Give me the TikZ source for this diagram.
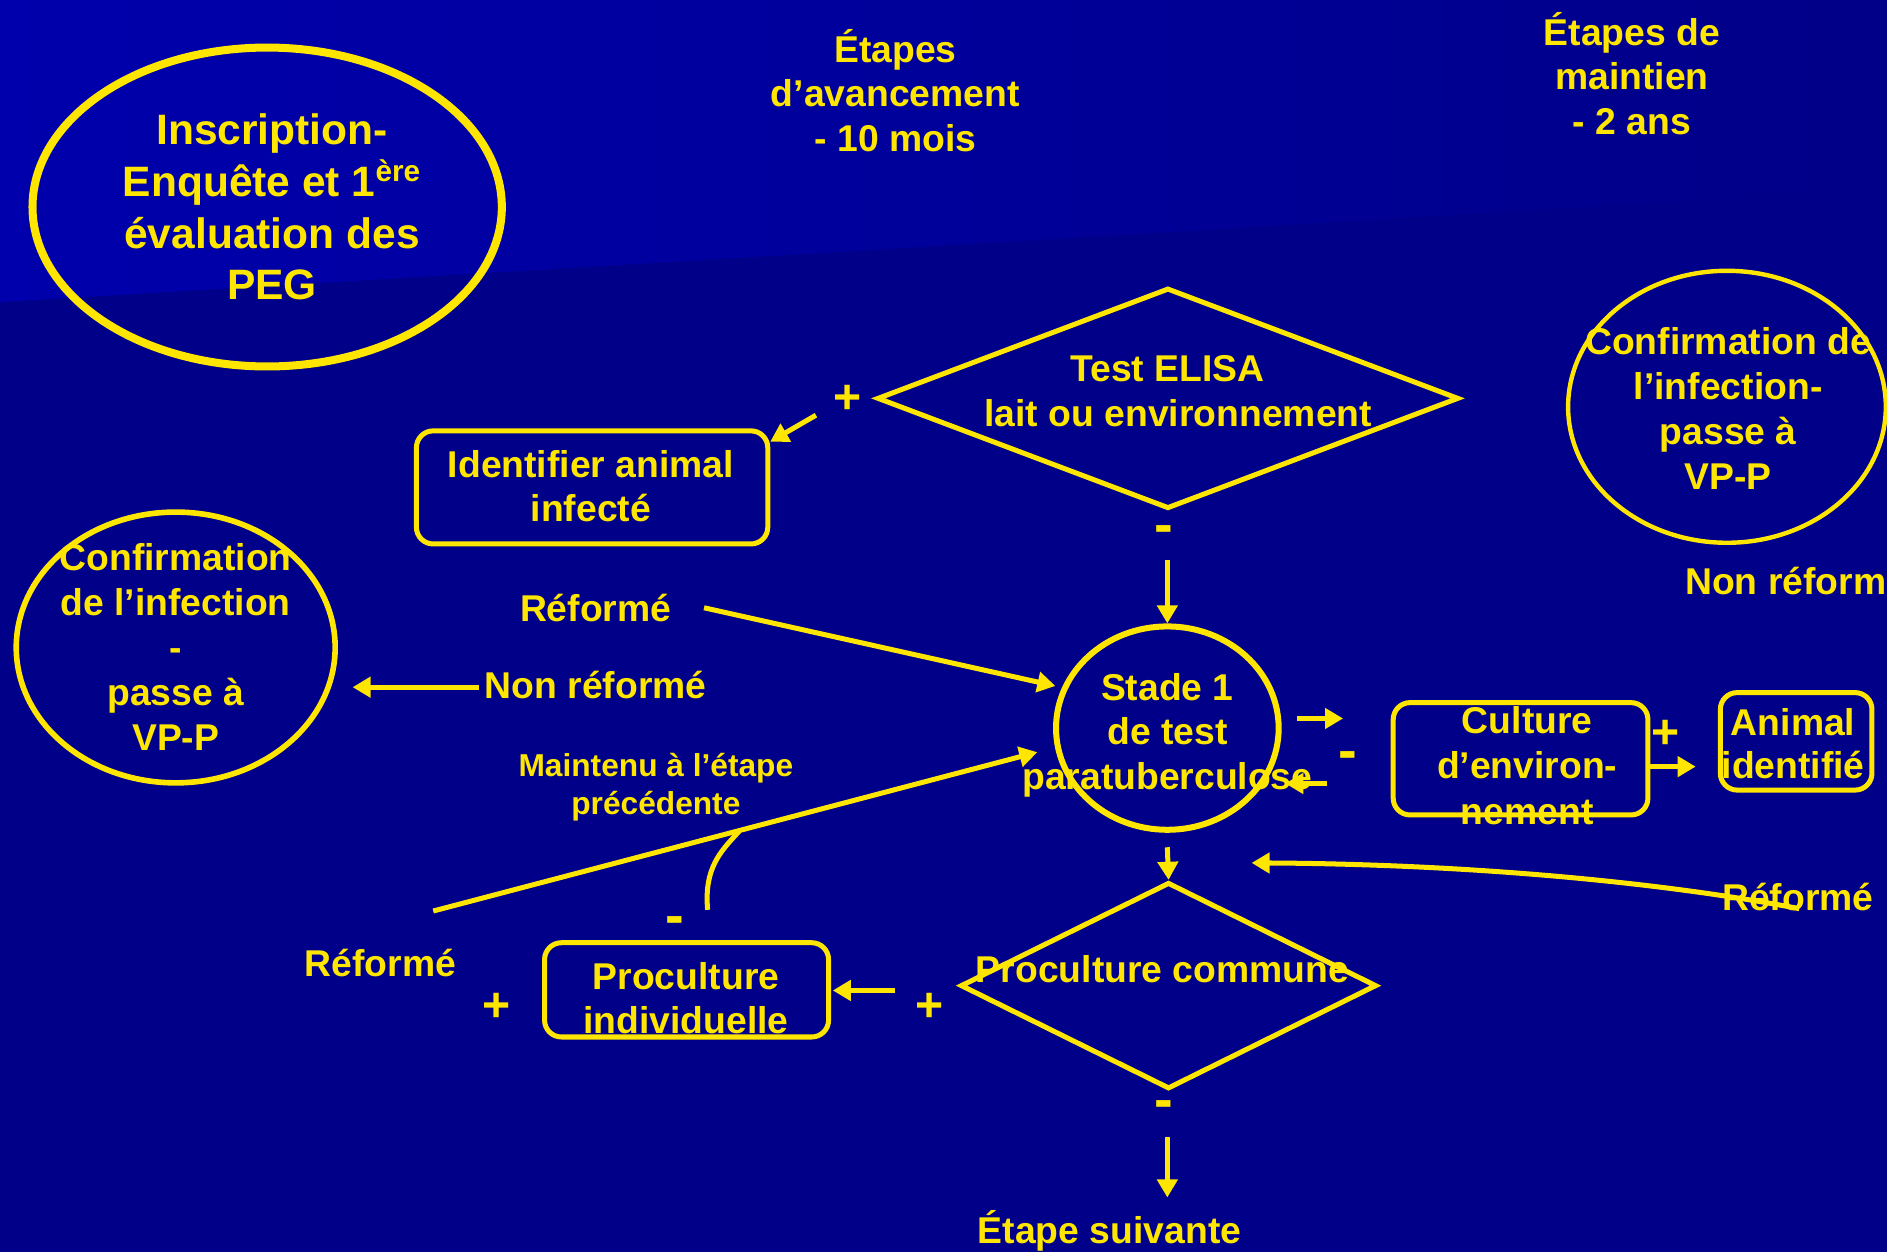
\documentclass[tikz,border=0pt]{standalone}
\usepackage{fontspec}
\setmainfont{Liberation Sans}
\usetikzlibrary{arrows.meta,shapes.geometric}
\definecolor{ylw}{RGB}{255,230,0}
\definecolor{bglow}{RGB}{0,0,136}
\definecolor{bgtop}{RGB}{0,0,172}
\begin{document}
\begin{tikzpicture}[x=0.6pt,y=-0.6pt,
  txt/.style={text=ylw, font=\bfseries\fontsize{18.6}{22.2}\selectfont, align=center, inner sep=0pt},
  small/.style={text=ylw, font=\bfseries\fontsize{15.8}{18.6}\selectfont, align=center, inner sep=0pt},
  sign/.style={text=ylw, font=\bfseries\fontsize{24}{24}\selectfont, inner sep=0pt},
  minus/.style={text=ylw, font=\bfseries\fontsize{28}{28}\selectfont, inner sep=0pt},
  shp/.style={draw=ylw, line width=2.5pt, inner sep=0pt},
  ell/.style={shp, ellipse},
  dia/.style={shp, diamond},
  rbox/.style={shp, rectangle, rounded corners=8.4pt},
  conn/.style={draw=ylw, line width=2.5pt},
  arr/.style={conn, -{Triangle[length=9pt,width=10pt]}}
]
\useasboundingbox (0,0) rectangle (1568,1040);
\clip (0,0) rectangle (1568,1040);
% background
\fill[bglow] (0,0) rectangle (1568,1040);
\shade[left color=bgtop, right color=bglow] (0,0) -- (1568,0) -- (1568,157) -- (870,199) -- (0,251) -- cycle;

% shapes
\node[ell, line width=4pt, minimum width=234pt, minimum height=159pt] (insc) at (222,172) {};
\node[ell, line width=2.8pt, minimum width=159pt, minimum height=135pt] (confL) at (146,538) {};
\node[ell, line width=2.2pt, minimum width=158.4pt, minimum height=135.6pt] (confR) at (1435,338) {};
\node[ell, line width=3pt, minimum width=111pt, minimum height=101.4pt] (stade) at (970,605) {};
\node[dia, minimum width=290pt, minimum height=110pt] (elisa) at (970.5,331) {};
\node[dia, minimum width=207.5pt, minimum height=103pt] (procc) at (971,819) {};
\node[rbox, minimum width=175.2pt, minimum height=56.4pt] (ident) at (492,405) {};
\node[rbox, minimum width=141.6pt, minimum height=47pt] (proci) at (570.5,822.5) {};
\node[rbox, minimum width=127pt, minimum height=56pt] (cult) at (1263.5,630.5) {};
\node[rbox, minimum width=75.6pt, minimum height=48.6pt] (anim) at (1492.5,616) {};

% texts inside shapes
\node[txt, font=\bfseries\fontsize{21.2}{25.8}\selectfont] (inscT) at (226,172) {Inscription-\\Enquête et 1\textsuperscript{ère}\\évaluation des\\PEG};
\node[txt, font=\bfseries\fontsize{18.6}{22.35}\selectfont] (confLT) at (146,537.5) {Confirmation\\de l’infection\\-\\passe à\\VP-P};
\node[txt, font=\bfseries\fontsize{18.6}{22.35}\selectfont] (confRT) at (1436,339.5) {Confirmation de\\l’infection-\\passe à\\VP-P};
\node[txt] (stadeT) at (970,611) {Stade 1\\de test\\paratuberculose};
\node[txt] (elisaT) at (979,325) {Test ELISA\hspace*{10.8pt}\\lait ou environnement};
\node[txt] (proccT) at (966,805) {Proculture commune};
\node[txt] (identT) at (491,404) {Identifier animal\\infecté};
\node[txt] (prociT) at (570,829.5) {Proculture\\individuelle};
\node[txt, font=\bfseries\fontsize{18.6}{22.8}\selectfont] (cultT) at (1269,636) {Culture\\d’environ-\\nement};
\node[txt, font=\bfseries\fontsize{18.6}{21.6}\selectfont] (animT) at (1490,618) {Animal\\identifié};

% free texts
\node[txt] (etav) at (744,75) {Étapes\\d’avancement\\- 10 mois};
\node[txt] (etma) at (1356,61) {Étapes de\\maintien\\- 2 ans};
\node[txt] (ref1) at (495,505) {Réformé};
\node[txt] (nref1) at (495,569) {Non réformé};
\node[small] (maint) at (545,654) {Maintenu à l’étape\\précédente};
\node[txt] (ref2) at (316,800) {Réformé};
\node[txt] (ref3) at (1494,745) {Réformé};
\node[txt, anchor=west] (nref2) at (1400,483) {Non réformé};
\node[txt] (suiv) at (922,1023) {Étape suivante};

% signs
\node[sign] (s1) at (704,332) {+};
\node[sign] (s2) at (413,837) {+};
\node[sign] (s3) at (772,837) {+};
\node[sign] (s4) at (1384,610) {+};
\node[minus] (m1) at (967,444) {-};
\node[minus] (m2) at (561,769) {-};
\node[minus] (m3) at (967,922) {-};
\node[minus] (m4) at (1120,632) {-};

% connector end points
\coordinate (a1s) at (678,345);  \coordinate (a1e) at (640,367);
\coordinate (a2s) at (970,465);
\coordinate (a3s) at (585,505);  \coordinate (a3e) at (877,570);
\coordinate (a4s) at (398,571);  \coordinate (a4e) at (293,571);
\coordinate (a5s) at (360,757);  \coordinate (a5e) at (862,625);
\coordinate (t1s) at (588,756);  \coordinate (t1e) at (614,691);
\coordinate (a6s) at (970,704);
\coordinate (a7s) at (744,823);  \coordinate (a7e) at (692,823);
\coordinate (a8s) at (970,945);  \coordinate (a8e) at (970,995);
\coordinate (a9s) at (1078,597); \coordinate (a9e) at (1116,597);
\coordinate (a10s) at (1103,651); \coordinate (a10e) at (1068,651);
\coordinate (a11s) at (1370.5,637); \coordinate (a11e) at (1409,637);
\coordinate (a12s) at (1495,755); \coordinate (a12e) at (1040,717);

% connectors
\draw[arr] (a1s) -- (a1e);
\draw[arr] (a2s) -- (stade.north);
\draw[arr] (a3s) -- (a3e);
\draw[arr] (a4s) -- (a4e);
\draw[arr] (a5s) -- (a5e);
\draw[conn] (t1s) .. controls (585,722) and (598,708) .. (t1e);
\draw[arr] (a6s) -- (procc.north);
\draw[arr] (a7s) -- (a7e);
\draw[arr] (a8s) -- (a8e);
\draw[arr] (a9s) -- (a9e);
\draw[arr] (a10s) -- (a10e);
\draw[arr] (a11s) -- (a11e);
\draw[arr] (a12s) .. controls (1380,733) and (1220,718) .. (a12e);
\end{tikzpicture}
\end{document}
